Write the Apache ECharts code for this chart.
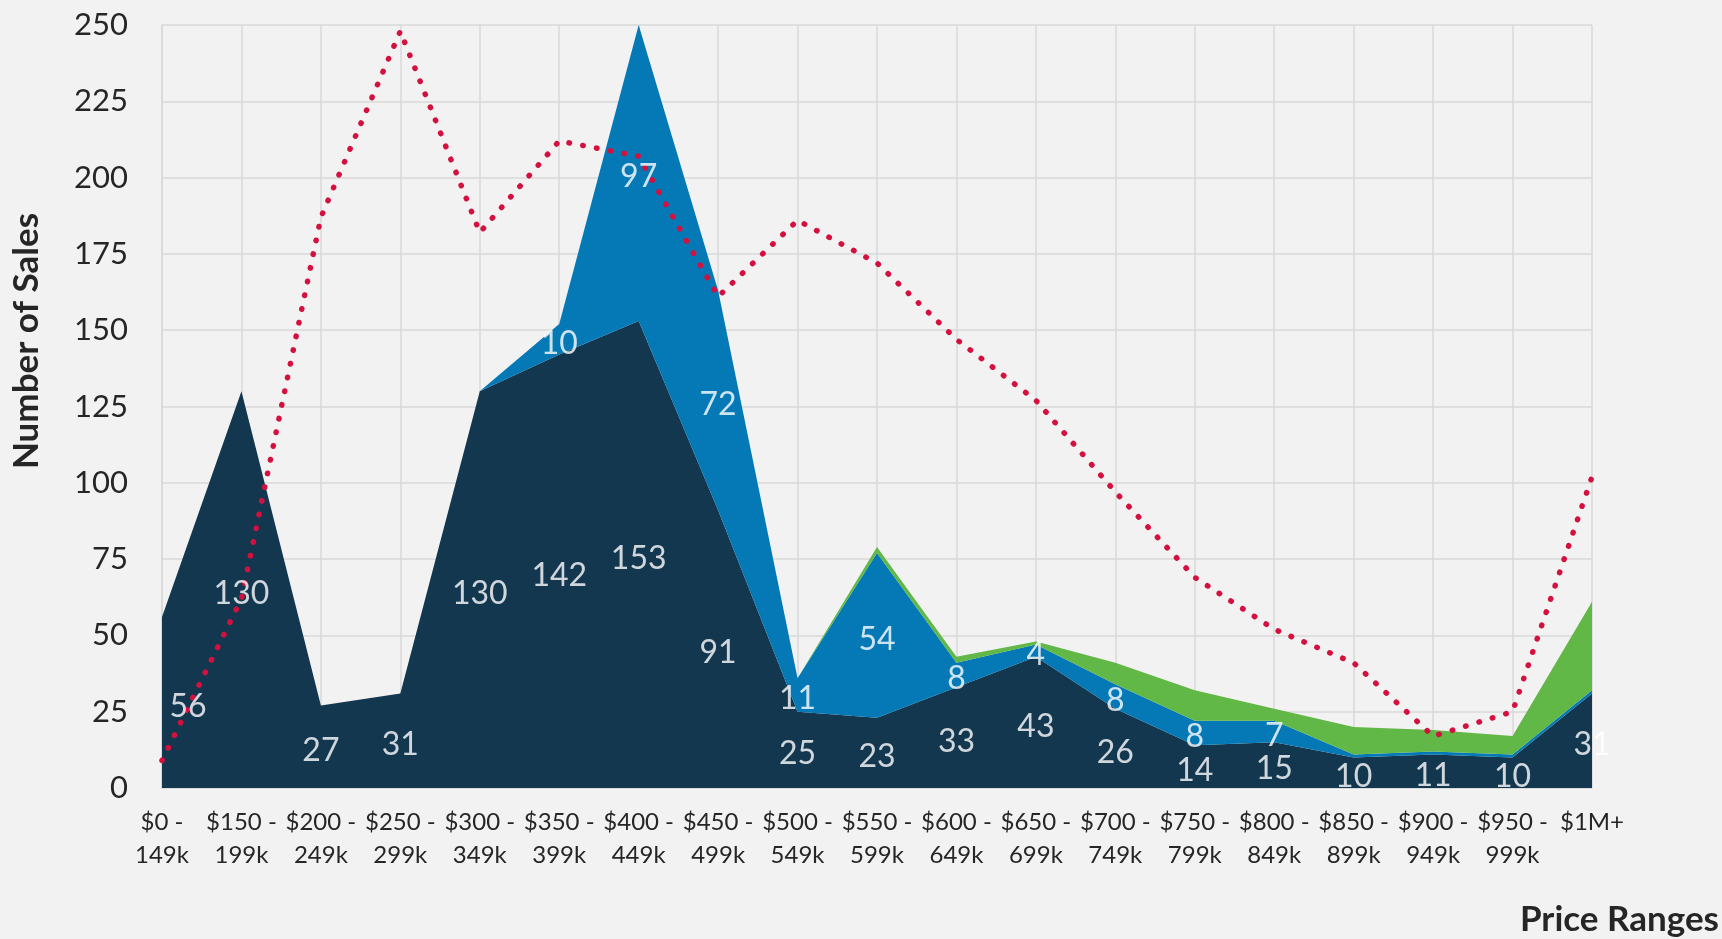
<!DOCTYPE html>
<html>
<head>
<meta charset="utf-8">
<script src="https://cdn.jsdelivr.net/npm/echarts@6/dist/echarts.min.js"></script>
<style>
html,body{margin:0;padding:0;background:#F2F2F2;}
#c{width:1722px;height:939px;}
</style>
</head>
<body>
<div id="c"></div>
<script>
// ---- data ----
const categories = ['$0 -\n149k','$150 -\n199k','$200 -\n249k','$250 -\n299k','$300 -\n349k','$350 -\n399k','$400 -\n449k','$450 -\n499k','$500 -\n549k','$550 -\n599k','$600 -\n649k','$650 -\n699k','$700 -\n749k','$750 -\n799k','$800 -\n849k','$850 -\n899k','$900 -\n949k','$950 -\n999k','$1M+'];
const seriesA = [56,130,27,31,130,142,153,91,25,23,33,43,26,14,15,10,11,10,31];
const seriesB = [0,0,0,0,0,10,97,72,11,54,8,4,8,8,7,1,1,1,1];
const seriesC = [0,0,0,0,0,0,0,0,0,2,2,1,7,10,4,9,7,6,29];
const seriesLine = [9,62,187,248,182,212,207,161,186,172,147,127,97,69,52,41,17,25,102];
const yTicks = {min:0, max:250, interval:25};
const xTitle = 'Price Ranges';
const yTitle = 'Number of Sales';

// ---- style ----
const FONT = 'Lato';
const TXT = '#262626';
const GRID = '#D9D9D9';
const C_A = '#13374F', C_B = '#0479B6', C_C = '#62B846', C_L = '#D4103F';

function labelPoints(vals, base){
  return vals.map((v,i)=>{
    const item = {value:[i, base[i] + v/2, v]};
    if (v < 2) item.label = {show:false};
    if (i === 0) item.label = Object.assign({}, item.label||{}, {offset:[26,4]});
    return item;
  });
}
const zeros = seriesA.map(()=>0);

const chart = echarts.init(document.getElementById('c'), null, {renderer:'canvas'});
const areaSeries = (name, data, color) => ({
  name, type:'line', stack:'total', data, symbol:'none', z:2,
  lineStyle:{width:0}, areaStyle:{color, opacity:1}, itemStyle:{color},
  emphasis:{disabled:true}
});
const labelSeries = (name, pts) => ({
  name, type:'scatter', data:pts, symbolSize:0, z:5, silent:true,
  label:{show:true, position:'inside', offset:[0,4], color:'#FFFFFF', fontFamily:FONT, fontSize:32,
    formatter:p=>String(p.value[2])}
});

chart.setOption({
  animation:false,
  backgroundColor:'#F2F2F2',
  textStyle:{fontFamily:FONT},
  grid:{left:162, right:130, top:25, bottom:151, containLabel:false},
  xAxis:{
    type:'category', data:categories, boundaryGap:false,
    axisTick:{show:false},
    axisLine:{show:true, lineStyle:{color:GRID, width:1.5}},
    splitLine:{show:true, lineStyle:{color:GRID, width:1.5}},
    axisLabel:{interval:0, color:TXT, fontFamily:FONT, fontSize:24, lineHeight:33, margin:18}
  },
  yAxis:{
    type:'value', min:yTicks.min, max:yTicks.max, interval:yTicks.interval,
    axisLine:{show:true, lineStyle:{color:GRID, width:1.5}},
    axisTick:{show:false},
    splitLine:{show:true, lineStyle:{color:GRID, width:1.5}},
    axisLabel:{color:TXT, fontFamily:FONT, fontSize:31, margin:34}
  },
  graphic:[
    {type:'text', x:27, y:341, rotation:Math.PI/2,
      style:{text:yTitle, fill:TXT, font:'bold 35px Lato', textAlign:'center', textVerticalAlign:'middle'}},
    {type:'text', x:1719, y:920,
      style:{text:xTitle, fill:TXT, font:'bold 35px Lato', textAlign:'right', textVerticalAlign:'middle'}}
  ],
  series:[
    areaSeries('A', seriesA, C_A),
    areaSeries('B', seriesB, C_B),
    areaSeries('C', seriesC, C_C),
    {name:'Line', type:'line', data:seriesLine, symbol:'none', z:4,
      lineStyle:{color:C_L, width:5.5, type:[0.5,13.5], cap:'round'}, emphasis:{disabled:true}},
    labelSeries('A labels', labelPoints(seriesA, zeros)),
    labelSeries('B labels', labelPoints(seriesB, seriesA))
  ]
});
</script>
</body>
</html>
